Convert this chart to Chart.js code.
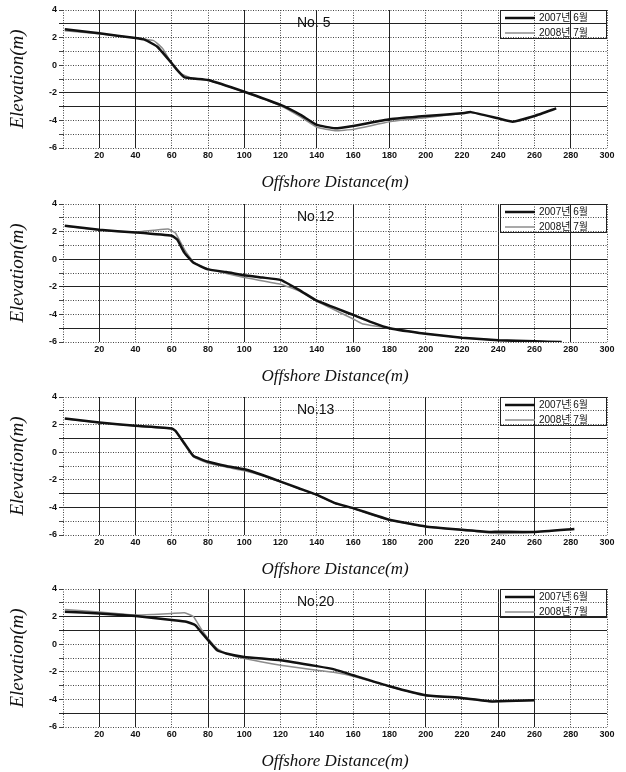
<!DOCTYPE html>
<html>
<head>
<meta charset="utf-8">
<script src="https://cdn.jsdelivr.net/npm/chart.js@4.4.1/dist/chart.umd.min.js"></script>
<style>
  body { margin: 0; background: #fff; }
  .wrap { position: relative; width: 626px; height: 772px; }
  .panel { position: absolute; left: 0; width: 626px; height: 193px; }
</style>
</head>
<body>
<div class="wrap">
  <div class="panel" style="top:0px"><canvas id="c0"></canvas></div>
  <div class="panel" style="top:194px"><canvas id="c1"></canvas></div>
  <div class="panel" style="top:387px"><canvas id="c2"></canvas></div>
  <div class="panel" style="top:579px"><canvas id="c3"></canvas></div>
</div>
<script>
// profile names and series labels
const profiles = ['No. 5', 'No.12', 'No.13', 'No.20'];
const seriesLabels = ['2007년 6월', '2008년 7월'];

// No. 5  [distance, elevation]
const no5_2007 = [[1,2.6],[20,2.31],[40,1.97],[45,1.85],[52,1.34],[60,0.14],[62,-0.2],[67,-0.88],[80,-1.07],[100,-1.92],[120,-2.88],[131,-3.6],[140,-4.33],[150,-4.57],[160,-4.4],[180,-3.92],[200,-3.68],[220,-3.49],[225,-3.4],[240,-3.85],[248,-4.09],[260,-3.68],[272,-3.13]];
const no5_2008 = [[1,2.5],[20,2.28],[40,1.98],[50,1.78],[55,1.2],[60,0.1],[65,-0.6],[70,-0.9],[80,-1.1],[100,-1.95],[120,-2.95],[131,-3.75],[140,-4.5],[150,-4.75],[160,-4.65],[180,-4.1],[200,-3.8],[220,-3.5],[225,-3.4]];

// No.12
const no12_2007 = [[1,2.42],[20,2.13],[40,1.94],[60,1.7],[63,1.42],[67,0.46],[72,-0.26],[80,-0.74],[90,-0.93],[100,-1.17],[110,-1.33],[120,-1.5],[131,-2.29],[140,-3.01],[160,-4.04],[170,-4.56],[180,-5.0],[200,-5.4],[220,-5.69],[240,-5.88],[260,-5.95],[275,-6.0]];
const no12_2008 = [[1,2.4],[20,2.12],[40,1.95],[45,2.04],[50,2.09],[58,2.18],[62,1.9],[67,0.7],[72,-0.2],[80,-0.7],[100,-1.33],[120,-1.81],[130,-2.29],[140,-3.05],[160,-4.33],[165,-4.68],[170,-4.8],[180,-5.0],[200,-5.4],[220,-5.69],[240,-5.88],[260,-5.95],[275,-6.0]];

// No.13
const no13_2007 = [[1,2.44],[20,2.15],[40,1.91],[60,1.72],[62,1.55],[67,0.63],[72,-0.28],[80,-0.69],[90,-1.0],[100,-1.24],[110,-1.65],[120,-2.13],[130,-2.61],[140,-3.09],[150,-3.69],[160,-4.05],[180,-4.89],[200,-5.38],[220,-5.62],[235,-5.78],[240,-5.76],[260,-5.78],[282,-5.57]];
const no13_2008 = [[1,2.42],[20,2.14],[40,1.9],[60,1.7],[62,1.52],[67,0.55],[72,-0.35],[80,-0.78],[90,-1.08],[100,-1.35],[110,-1.7],[120,-2.15],[130,-2.63],[140,-3.1],[150,-3.7],[160,-4.08],[180,-4.92],[200,-5.4],[220,-5.65],[240,-5.9],[250,-5.86],[260,-5.8]];

// No.20
const no20_2007 = [[1,2.35],[20,2.23],[40,2.04],[60,1.75],[68,1.63],[73,1.38],[76,0.9],[80,0.3],[85,-0.43],[90,-0.67],[100,-0.92],[120,-1.16],[140,-1.59],[150,-1.84],[160,-2.25],[180,-3.05],[200,-3.7],[220,-3.89],[235,-4.14],[240,-4.14],[260,-4.06]];
const no20_2008 = [[1,2.52],[20,2.33],[40,2.11],[50,2.16],[60,2.23],[67,2.28],[72,1.99],[76,1.14],[80,0.42],[85,-0.31],[90,-0.67],[100,-1.04],[120,-1.52],[140,-1.88],[150,-2.05],[160,-2.32],[180,-3.07],[200,-3.72],[220,-3.9],[235,-4.15],[240,-4.15],[260,-4.07]];

const series2007 = [no5_2007, no12_2007, no13_2007, no20_2007];
const series2008 = [no5_2008, no12_2008, no13_2008, no20_2008];

// x and y grid values (metres)
const xMin = 0, xMax = 300, xStep = 20;
const yMin = -6, yMax = 4, yStep = 1;

// grid lines that print solid on the scan, per panel
const solidX = [[20,40,100,140,180,280],[20,100,160,240,280],[20,40,100,200,260],[20,40,80,100,200,240,260]];
const solidY = [[3,-2,-3],[0,-2,-5],[1,-3,-4],[2,1,-5]];

const sans = '"Liberation Sans", Arial, "Noto Sans CJK KR", sans-serif';
const serif = '"Liberation Serif", "Times New Roman", serif';

const toPts = arr => arr.map(p => ({x: p[0], y: p[1]}));

const legendPlugin = {
  id: 'boxLegend',
  afterDatasetsDraw(chart, args, opts) {
    const ctx = chart.ctx;
    const a = chart.chartArea;
    ctx.save();
    // profile name
    ctx.fillStyle = '#111';
    ctx.font = '14px ' + sans;
    ctx.textBaseline = 'middle';
    ctx.textAlign = 'left';
    ctx.fillText(opts.name, a.left + 234, a.top + 13);
    // legend box
    const bx = a.right - 107, bw = 107, bh = 28;
    ctx.strokeStyle = '#222';
    ctx.lineWidth = 1;
    ctx.strokeRect(bx + 0.5, a.top + 0.5, bw - 1, bh);
    chart.data.datasets.forEach((ds, i) => {
      const y = a.top + 8 + i * 15;
      ctx.strokeStyle = ds.borderColor;
      ctx.lineWidth = ds.borderWidth;
      ctx.beginPath();
      ctx.moveTo(bx + 5, y);
      ctx.lineTo(bx + 35, y);
      ctx.stroke();
      ctx.fillStyle = '#111';
      ctx.font = '10px ' + sans;
      ctx.fillText(ds.label, bx + 39, y);
    });
    ctx.restore();
  }
};

profiles.forEach((name, k) => {
  new Chart(document.getElementById('c' + k), {
    type: 'line',
    data: {
      datasets: [
        {label: seriesLabels[0], data: toPts(series2007[k]), borderColor: '#111', borderWidth: 2.5, order: 0},
        {label: seriesLabels[1], data: toPts(series2008[k]), borderColor: '#8c8c8c', borderWidth: 1.5, order: 1}
      ]
    },
    options: {
      responsive: true,
      maintainAspectRatio: false,
      animation: false,
      events: [],
      layout: {padding: {top: 10, right: 19, left: 0, bottom: 0}},
      elements: {point: {radius: 0}, line: {tension: 0.12}},
      plugins: {legend: {display: false}, tooltip: {enabled: false}, boxLegend: {name: name}},
      scales: {
        x: {
          type: 'linear', min: xMin, max: xMax,
          afterFit: s => { s.height = 45; },
          ticks: {stepSize: xStep, padding: 2, color: '#111',
            font: {family: sans, size: 9, weight: 'bold'},
            callback: v => v === 0 ? '' : v},
          grid: {drawTicks: false, lineWidth: 1,
            color: c => solidX[k].includes(c.tick.value) ? '#222' : '#444'},
          border: {display: false,
            dash: c => solidX[k].includes(c.tick.value) ? [] : [1, 1.5]},
          title: {display: true, text: 'Offshore Distance(m)', color: '#111',
            font: {family: serif, size: 17, style: 'italic'}, padding: 0}
        },
        y: {
          min: yMin, max: yMax,
          afterFit: s => { s.width = 63; },
          ticks: {stepSize: yStep, padding: 2, color: '#111',
            font: {family: sans, size: 9, weight: 'bold'},
            callback: v => v % 2 === 0 ? v : ''},
          grid: {tickLength: 4, lineWidth: 1,
            color: c => solidY[k].includes(c.tick.value) ? '#222' : '#444'},
          border: {display: false,
            dash: c => solidY[k].includes(c.tick.value) ? [] : [1, 1.5]},
          title: {display: true, text: 'Elevation(m)', color: '#111',
            font: {family: serif, size: 19, style: 'italic'}, padding: {top: 7, bottom: 0}}
        }
      }
    },
    plugins: [legendPlugin]
  });
});
</script>
</body>
</html>
